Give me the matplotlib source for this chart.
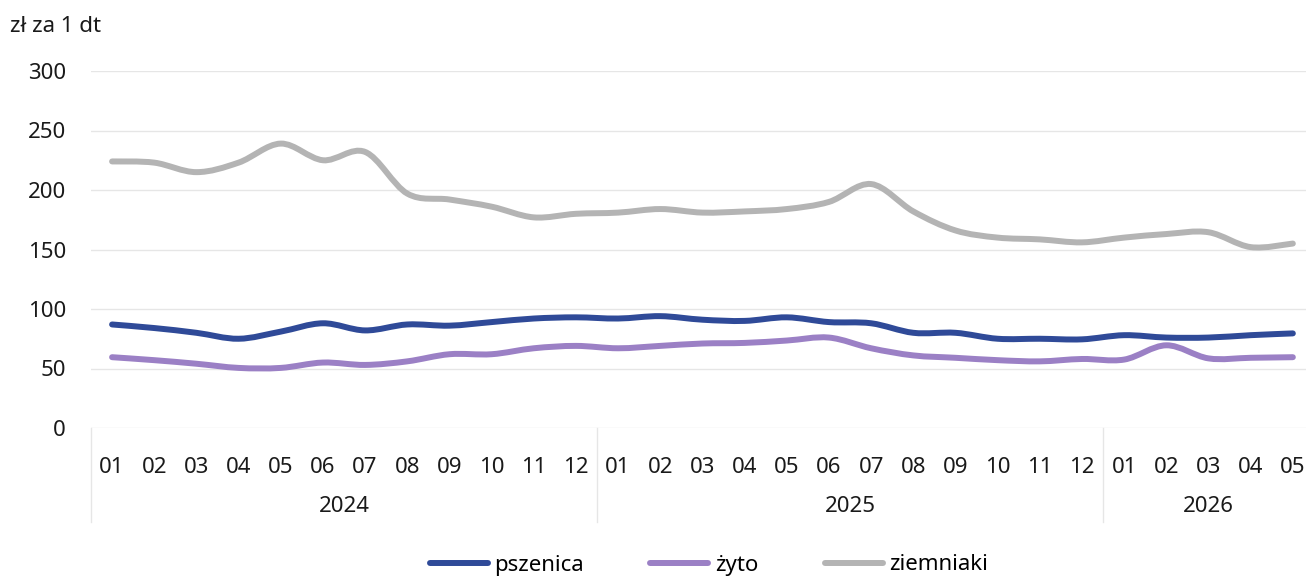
import numpy as np
import matplotlib
matplotlib.use("Agg")
import matplotlib.pyplot as plt
from matplotlib.path import Path
from matplotlib.patches import PathPatch
from matplotlib.lines import Line2D
from matplotlib.transforms import blended_transform_factory

plt.rcParams['font.family'] = ['Noto Sans', 'DejaVu Sans']

months = ["01", "02", "03", "04", "05", "06", "07", "08", "09", "10", "11", "12",
          "01", "02", "03", "04", "05", "06", "07", "08", "09", "10", "11", "12",
          "01", "02", "03", "04", "05"]
years = ["2024", "2025", "2026"]
year_sizes = [12, 12, 5]

pszenica = [87, 84, 80, 75, 81, 88, 82, 87, 86, 89, 92, 93,
            92, 94, 91, 90, 93, 89, 88, 80, 80, 75, 75, 74.5,
            78, 76, 76, 78, 79.5]
zyto = [59.5, 57, 54, 50.5, 50.5, 55, 53, 56, 62, 62, 67, 69,
        67, 69, 71, 71.5, 73.5, 76, 67, 61, 59, 57, 56, 58,
        57.5, 69.5, 58.5, 59, 59.5]
ziemniaki = [224, 223, 215, 223, 239, 225, 232, 197, 192, 186, 177, 180,
             181, 184, 181, 182, 184, 190, 205, 182, 166, 160, 158.5, 156,
             160, 163, 164.5, 152, 155]

series = [("pszenica", pszenica, "#2f4a98"),
          ("żyto", zyto, "#9b80c5"),
          ("ziemniaki", ziemniaki, "#b4b4b4")]

FS = 16
TXT = "#1a1a1a"


def smooth_path(xs, ys):
    # Catmull-Rom style bezier, like a spreadsheet "smoothed line"
    p = np.column_stack([xs, ys]).astype(float)
    n = len(p)
    verts = [p[0]]
    codes = [Path.MOVETO]
    for i in range(n - 1):
        p0 = p[i - 1] if i > 0 else p[i]
        p3 = p[i + 2] if i + 2 < n else p[i + 1]
        c1 = p[i] + (p[i + 1] - p0) / 6.0
        c2 = p[i + 1] - (p3 - p[i]) / 6.0
        verts += [c1, c2, p[i + 1]]
        codes += [Path.CURVE4] * 3
    return Path(verts, codes)


W, H = 1306, 576
fig = plt.figure(figsize=(W / 100, H / 100), dpi=100)
ax = fig.add_axes([91 / W, (H - 428) / H, (W - 91) / W, (428 - 71) / H])

x = np.arange(len(months))
handles = []
for name, vals, col in series:
    patch = PathPatch(smooth_path(x, vals), fill=False, edgecolor=col, lw=4.3,
                      capstyle='round', joinstyle='round', zorder=3)
    ax.add_patch(patch)
    handles.append(Line2D([], [], color=col, lw=4.3, solid_capstyle='round'))

ax.set_xlim(-0.5, (W - 91) / 42.17 - 0.5)
ax.set_ylim(0, 300)
ax.set_yticks([0, 50, 100, 150, 200, 250, 300])
ax.yaxis.grid(True, color="#e6e6e6", lw=1)
ax.set_axisbelow(True)
for s in ax.spines.values():
    s.set_visible(False)
ax.tick_params(axis='y', length=0, pad=18, labelsize=FS, colors=TXT)
ax.set_xticks(x)
ax.set_xticklabels(months)
ax.tick_params(axis='x', length=0, pad=21, labelsize=FS, colors=TXT)

tr = blended_transform_factory(ax.transData, ax.transAxes)
px = 1 / 357
start = -0.5
bounds = [start]
for yr, sz in zip(years, year_sizes):
    end = start + sz
    ax.text((start + end) / 2, -(507 - 428) * px, yr, transform=tr,
            ha='center', va='center', fontsize=FS, color=TXT)
    start = end
    bounds.append(end)
for b in bounds[:-1]:
    ax.plot([b, b], [0, -(522 - 428) * px], transform=tr, color="#e6e6e6",
            lw=1, clip_on=False)

fig.text(10 / W, 1 - 27 / H, "zł za 1 dt", ha='left', va='center',
         fontsize=FS, color=TXT)

fig.legend(handles, [s[0] for s in series], loc='center',
           bbox_to_anchor=(709 / W, 1 - 565 / H), ncol=3, frameon=False,
           fontsize=FS, handlelength=2.6, handletextpad=0.3,
           columnspacing=3.0, borderpad=0)

fig.savefig("out.png", dpi=100)
